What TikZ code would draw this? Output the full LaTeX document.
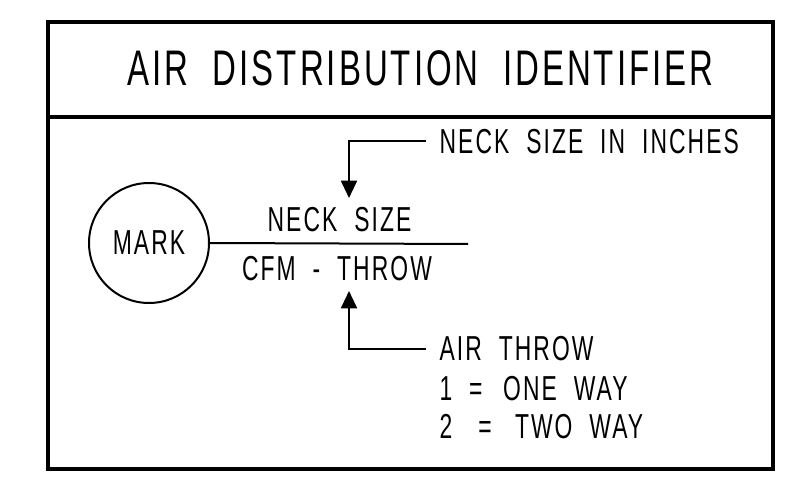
\documentclass[tikz,border=0pt]{standalone}
\usepackage{fontspec}
\setmainfont{Liberation Sans}[FakeStretch=0.66,LetterSpace=6,WordSpace=2]
\usetikzlibrary{arrows.meta}

\begin{document}
\begin{tikzpicture}[x=0.75pt,y=-0.75pt,
  lbl/.style={inner sep=0pt,font=\fontsize{26}{30}\selectfont},
  note/.style={lbl,anchor=west,inner xsep=10pt},
  lead/.style={line width=1.5pt,-{Triangle[length=13pt,width=12pt]}}]
  \useasboundingbox (0,0) rectangle (806,491);
  \draw[line width=3pt] (48,22) rectangle (773,469);
  \draw[line width=2.5pt] (48,117) -- (773,117);
  \node[lbl,font=\fontsize{37.5}{44}\selectfont] (title) at (420.5,68.5)
    {AIR DISTRIBUTION IDENTIFIER};
  % mark bubble and fraction bar
  \node[lbl,draw,circle,line width=1.5pt,minimum size=90pt] (mark) at (149,243) {MARK};
  \coordinate (barend) at (468,244);
  \draw[line width=1.5pt] (mark.east) -- (barend);
  \node[lbl] (neck) at (339.5,219.5) {NECK SIZE};
  \node[lbl] (cfm) at (337,269) {CFM - THROW};
  % callouts
  \node[note] (insize) at (426,141.5) {NECK SIZE IN INCHES};
  \node[note] (throw) at (426,349) {AIR THROW};
  \node[note] (oneway) at (426,388.5) {1 =\hspace{15.5pt}ONE WAY};
  \node[note] (twoway) at (426,426.5) {2\hspace{19.5pt}=\hspace{17.5pt}TWO WAY};
  \coordinate (ntip) at (349,198);
  \coordinate (ttip) at (349,291);
  \draw[lead] (insize.west) -| (ntip);
  \draw[lead] (throw.west) -| (ttip);
\end{tikzpicture}
\end{document}
